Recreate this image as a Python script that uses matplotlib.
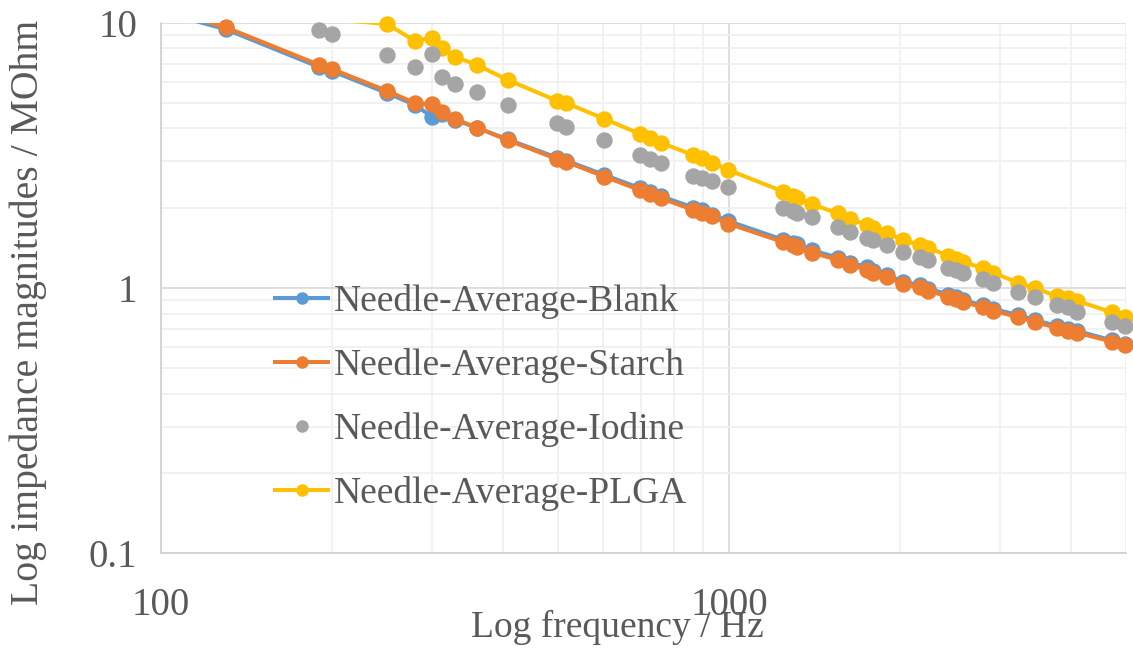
import matplotlib
matplotlib.use("Agg")
import matplotlib.pyplot as plt
from matplotlib.lines import Line2D
from matplotlib.ticker import LogLocator, FixedLocator, FixedFormatter, NullFormatter
import numpy as np

# Frequencies (Hz)
freq = [100, 130, 190, 200, 250, 280, 300, 313, 329, 360, 408,
        498, 517, 603, 697, 727, 758, 865, 895, 932, 996,
        1245, 1297, 1320, 1398, 1557, 1633, 1748, 1793, 1895, 2027,
        2165, 2243, 2433, 2509, 2587, 2797, 2913, 3233, 3457, 3775,
        3958, 4094, 4718, 4980]

# Impedance magnitudes (MOhm)
blank = [11.0, 9.45, 6.80, 6.57, 5.43, 4.90, 4.42, 4.52, 4.30, 4.02, 3.63,
         3.10, 3.02, 2.67, 2.38, 2.30, 2.22, 2.01, 1.96, 1.89, 1.79,
         1.52, 1.48, 1.46, 1.39, 1.30, 1.245, 1.20, 1.16, 1.12, 1.055,
         1.025, 0.995, 0.945, 0.925, 0.90, 0.86, 0.835, 0.79, 0.757, 0.72,
         0.703, 0.69, 0.635, 0.615]
starch = [11.3, 9.61, 6.93, 6.69, 5.53, 4.98, 4.94, 4.62, 4.34, 4.02, 3.61,
          3.06, 2.99, 2.63, 2.34, 2.26, 2.18, 1.97, 1.92, 1.86, 1.75,
          1.49, 1.45, 1.43, 1.36, 1.275, 1.22, 1.174, 1.139, 1.10, 1.035,
          1.006, 0.977, 0.927, 0.907, 0.885, 0.846, 0.821, 0.777, 0.744, 0.708,
          0.691, 0.679, 0.628, 0.610]
iodine = [14.0, 12.0, 9.39, 9.07, 7.55, 6.81, 7.62, 6.24, 5.87, 5.50, 4.90,
          4.19, 4.05, 3.61, 3.17, 3.06, 2.97, 2.64, 2.59, 2.53, 2.40,
          2.01, 1.95, 1.92, 1.85, 1.70, 1.62, 1.55, 1.52, 1.45, 1.37,
          1.305, 1.275, 1.187, 1.169, 1.136, 1.078, 1.041, 0.968, 0.922, 0.863,
          0.846, 0.815, 0.746, 0.719]
plga = [17.0, 14.0, 11.0, 10.3, 9.89, 8.53, 8.78, 8.03, 7.44, 6.93, 6.08,
        5.08, 4.98, 4.34, 3.81, 3.68, 3.53, 3.17, 3.08, 2.97, 2.79,
        2.31, 2.22, 2.18, 2.07, 1.91, 1.82, 1.73, 1.69, 1.61, 1.52,
        1.45, 1.42, 1.32, 1.29, 1.256, 1.187, 1.142, 1.047, 0.997, 0.933,
        0.915, 0.896, 0.81, 0.78]

labels = ["Needle-Average-Blank", "Needle-Average-Starch",
          "Needle-Average-Iodine", "Needle-Average-PLGA"]
colors = ["#5B9BD5", "#ED7D31", "#A5A5A5", "#FFC000"]

TEXT = "#595959"
FONT = ["Liberation Serif", "DejaVu Serif"]
plt.rcParams["font.family"] = FONT

fig = plt.figure(figsize=(11.33, 6.49), dpi=100)
W, H = 1133, 649
left, right, top, bottom = 161, 1126, 22.7, 553.3
ax = fig.add_axes([left / W, 1 - bottom / H, (right - left) / W, (bottom - top) / H])
ax.set_xscale("log")
ax.set_yscale("log")
ax.set_xlim(100, 5000)
ax.set_ylim(0.1, 10)

f = np.array(freq)
YMAX = 10.0


def draw(values, color, z, line=True):
    v = np.array(values)
    if line:
        ax.plot(f, v, color=color, lw=2.9, zorder=z, solid_capstyle="round")
    keep = v <= YMAX * 1.001
    ax.plot(f[keep], v[keep], ls="none", marker="o", ms=10.8, color=color,
            mec=color, zorder=z + 0.5, clip_on=False)


draw(blank, colors[0], 3)
draw(starch, colors[1], 4)
draw(plga, colors[3], 5)
draw(iodine, colors[2], 6, line=False)

# Grid
ax.xaxis.set_major_locator(FixedLocator([100, 1000]))
ax.xaxis.set_major_formatter(FixedFormatter(["100", "1000"]))
ax.xaxis.set_minor_locator(LogLocator(base=10, subs=np.arange(2, 10)))
ax.xaxis.set_minor_formatter(NullFormatter())
ax.yaxis.set_major_locator(FixedLocator([0.1, 1, 10]))
ax.yaxis.set_major_formatter(FixedFormatter(["0.1", "1", "10"]))
ax.yaxis.set_minor_locator(LogLocator(base=10, subs=np.arange(2, 10)))
ax.yaxis.set_minor_formatter(NullFormatter())
ax.grid(True, which="major", color="#D9D9D9", lw=1.2, zorder=0)
ax.grid(True, which="minor", color="#EFEFEF", lw=1.2, zorder=0)
ax.set_axisbelow(True)

for s in ["top", "right"]:
    ax.spines[s].set_visible(False)
for s in ["left", "bottom"]:
    ax.spines[s].set_color("#D0D0D0")
    ax.spines[s].set_linewidth(1.2)

ax.tick_params(which="both", length=0)
ax.tick_params(axis="y", labelsize=28, labelcolor=TEXT, pad=17)
ax.tick_params(axis="x", labelsize=28, labelcolor=TEXT, pad=24)

ax.set_xlabel("Log frequency / Hz", fontsize=27, color=TEXT)
ax.xaxis.set_label_coords((617 - left) / (right - left), -(627 - bottom) / (bottom - top))
ax.xaxis.label.set_va("center")
ax.set_ylabel("Log impedance magnitudes / MOhm", fontsize=28.6, color=TEXT)
ax.yaxis.set_label_coords(-(left - 28) / (right - left), (bottom - 312) / (bottom - top))
ax.yaxis.label.set_va("center")

handles = [
    Line2D([], [], color=colors[0], lw=2.9, marker="o", ms=8),
    Line2D([], [], color=colors[1], lw=2.9, marker="o", ms=8),
    Line2D([], [], color=colors[2], lw=0, marker="o", ms=8),
    Line2D([], [], color=colors[3], lw=2.9, marker="o", ms=8),
]
leg = fig.legend(handles, labels, loc="upper left",
                 bbox_to_anchor=(275 / W, 1 - 284 / H),
                 frameon=False, fontsize=27, handlelength=1.42,
                 handletextpad=0.15, labelspacing=0.77, borderpad=0,
                 borderaxespad=0)
for t in leg.get_texts():
    t.set_color(TEXT)

fig.savefig("out.png", dpi=100)
